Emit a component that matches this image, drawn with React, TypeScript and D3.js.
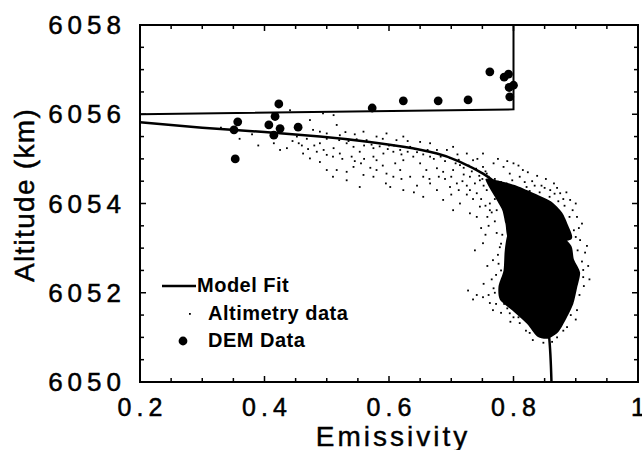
import React from 'react';
import * as d3 from 'd3';

// emissivity vs altitude (km)
const xTicks = [0.2, 0.4, 0.6, 0.8, 1];
const xTickLabels = ['0.2', '0.4', '0.6', '0.8', '1'];
const yTicks = [6050, 6052, 6054, 6056, 6058];
const yTickLabels = ['6050', '6052', '6054', '6056', '6058'];

const modelFit: [number, number][] = [
  [0.2, 6055.82], [0.3, 6055.7], [0.4, 6055.6], [0.489, 6055.5], [0.569, 6055.38],
  [0.623, 6055.27], [0.677, 6055.12], [0.719, 6054.9], [0.751, 6054.67], [0.784, 6054.3],
  [0.805, 6053.93], [0.821, 6053.6], [0.835, 6052.95], [0.845, 6052.25], [0.852, 6051.6],
  [0.857, 6051.05], [0.861, 6050.0],
];

const boundary: [number, number][] = [
  [0.2, 6056.0], [0.8, 6056.11], [0.8, 6058],
];

const demData: [number, number][] = [
  [0.353, 6055.0], [0.357, 6055.83], [0.351, 6055.65], [0.423, 6056.23], [0.417, 6055.95],
  [0.407, 6055.76], [0.425, 6055.68], [0.415, 6055.53], [0.454, 6055.71], [0.573, 6056.14],
  [0.623, 6056.3], [0.679, 6056.3], [0.727, 6056.32], [0.762, 6056.95], [0.785, 6056.83],
  [0.792, 6056.9], [0.8, 6056.65], [0.793, 6056.6], [0.794, 6056.39],
];

// dense part of the altimetry cloud, traced as outlines
const altimetryBand: [number, number][] = [
  [0.755, 6054.55], [0.78, 6054.5], [0.805, 6054.4], [0.835, 6054.22], [0.86, 6054.05],
  [0.878, 6053.8], [0.888, 6053.5], [0.893, 6053.2], [0.85, 6053.1], [0.795, 6053.15],
  [0.787, 6053.55], [0.782, 6053.85], [0.77, 6054.15],
];
const altimetryCore: [number, number][] = [
  [0.792, 6053.35], [0.815, 6053.5], [0.845, 6053.45], [0.875, 6053.3], [0.893, 6053.05],
  [0.897, 6052.75], [0.907, 6052.45], [0.902, 6052.1], [0.896, 6051.75], [0.884, 6051.4],
  [0.872, 6051.12], [0.855, 6050.97], [0.838, 6051.02], [0.822, 6051.3], [0.8, 6051.58],
  [0.778, 6051.85], [0.776, 6052.15], [0.784, 6052.5], [0.786, 6052.95],
];

// scattered altimetry points
const altimetryDots: [number, number][] = [
  [0.489, 6055.61], [0.5, 6055.57], [0.478, 6055.65], [0.516, 6055.76], [0.521, 6055.53],
  [0.532, 6055.35], [0.489, 6055.35], [0.484, 6055.16], [0.5, 6055.09], [0.511, 6055.24],
  [0.521, 6055.12], [0.543, 6055.27], [0.553, 6055.16], [0.559, 6055.61], [0.564, 6055.42],
  [0.575, 6055.05], [0.58, 6054.97], [0.462, 6055.12], [0.473, 6055.01], [0.489, 6054.93],
  [0.5, 6054.75], [0.516, 6054.75], [0.532, 6054.71], [0.543, 6054.82], [0.559, 6054.64],
  [0.575, 6055.24], [0.473, 6055.87], [0.452, 6055.5], [0.425, 6055.2], [0.436, 6055.24],
  [0.532, 6054.52], [0.553, 6054.37], [0.494, 6056.02], [0.441, 6056.09], [0.511, 6055.98],
  [0.36, 6055.45], [0.38, 6055.55], [0.39, 6055.3], [0.33, 6055.7], [0.4, 6055.6], [0.415, 6055.35],
  [0.58, 6055.5], [0.596, 6055.57], [0.612, 6055.42], [0.623, 6055.5], [0.65, 6055.38],
  [0.666, 6055.35], [0.591, 6055.12], [0.607, 6055.16], [0.623, 6054.97], [0.639, 6055.05],
  [0.65, 6054.9], [0.666, 6055.05], [0.677, 6054.79], [0.687, 6054.71], [0.703, 6054.75],
  [0.714, 6054.86], [0.725, 6055.12], [0.735, 6054.97], [0.751, 6055.12], [0.73, 6054.6],
  [0.746, 6054.52], [0.757, 6054.67], [0.709, 6054.45], [0.698, 6054.37], [0.73, 6054.3],
  [0.741, 6054.23], [0.757, 6054.3], [0.677, 6054.3], [0.655, 6054.6], [0.634, 6054.6],
  [0.618, 6054.75], [0.596, 6054.67], [0.58, 6054.75], [0.655, 6054.15], [0.714, 6054.0],
  [0.73, 6053.78], [0.746, 6053.93], [0.762, 6054.0], [0.773, 6053.85], [0.784, 6054.08],
  [0.778, 6054.3], [0.789, 6054.45], [0.8, 6054.9], [0.81, 6054.6], [0.821, 6054.37],
  [0.794, 6054.67], [0.784, 6054.82], [0.768, 6054.9], [0.762, 6054.49], [0.751, 6054.82],
  [0.693, 6055.2], [0.703, 6055.27], [0.677, 6055.2], [0.634, 6055.27], [0.575, 6054.6],
  [0.602, 6054.37], [0.623, 6054.3], [0.666, 6054.45], [0.687, 6054.08], [0.703, 6053.85],
  [0.741, 6053.7], [0.751, 6053.11], [0.767, 6052.73], [0.762, 6053.85],
  [0.773, 6053.34], [0.778, 6053.02], [0.902, 6053.7], [0.907, 6053.18], [0.912, 6052.51],
  [0.891, 6054.08], [0.875, 6054.23], [0.859, 6054.3], [0.741, 6051.95], [0.751, 6051.9],
  [0.762, 6051.77], [0.767, 6051.61], [0.794, 6051.54], [0.81, 6051.32], [0.831, 6050.94],
  [0.912, 6052.35], [0.902, 6051.61], [0.886, 6051.23], [0.87, 6051.0], [0.845, 6054.4],
  [0.83, 6054.5], [0.815, 6054.75], [0.77, 6053.6], [0.765, 6052.3], [0.77, 6052.0],
  [0.915, 6052.9], [0.905, 6053.45], [0.895, 6053.85], [0.88, 6054.1], [0.87, 6054.35],
  [0.725, 6054.4], [0.735, 6054.1], [0.72, 6054.65], [0.69, 6054.55], [0.66, 6054.75],
  [0.645, 6055.15], [0.6, 6055.3], [0.56, 6055.0], [0.545, 6054.95], [0.61, 6054.9],
  [0.62, 6055.1], [0.455, 6055.35], [0.468, 6055.45], [0.445, 6055.4], [0.51, 6054.6],
  [0.595, 6054.45], [0.64, 6054.25], [0.7, 6054.2], [0.76, 6053.5], [0.755, 6053.3],
  [0.78, 6052.5], [0.775, 6052.85], [0.785, 6051.75], [0.8, 6051.45], [0.82, 6051.15],
  // thicker speckle close to the fit curve
  [0.52, 6055.42], [0.535, 6055.4], [0.548, 6055.44], [0.56, 6055.3], [0.572, 6055.32],
  [0.585, 6055.28], [0.598, 6055.22], [0.608, 6055.3], [0.618, 6055.2], [0.63, 6055.16],
  [0.642, 6055.22], [0.655, 6055.1], [0.662, 6055.2], [0.672, 6055.0], [0.683, 6055.05],
  [0.69, 6054.95], [0.698, 6055.02], [0.707, 6054.9], [0.712, 6054.98], [0.72, 6054.8],
  [0.728, 6054.85], [0.733, 6054.72], [0.74, 6054.78], [0.745, 6054.62], [0.75, 6054.55],
  [0.755, 6054.72], [0.76, 6054.6], [0.765, 6054.42], [0.77, 6054.55], [0.775, 6054.38],
  [0.78, 6054.48], [0.792, 6054.25], [0.798, 6054.52], [0.805, 6054.35], [0.812, 6054.2],
  [0.818, 6054.48], [0.826, 6054.28], [0.834, 6054.4], [0.842, 6054.25], [0.85, 6054.35],
  [0.858, 6054.15], [0.866, 6054.22], [0.872, 6054.05], [0.882, 6053.95], [0.89, 6053.7],
  [0.897, 6053.4], [0.9, 6053.25], [0.903, 6052.95], [0.91, 6052.7], [0.913, 6052.15],
  [0.906, 6051.95], [0.9, 6051.4], [0.892, 6051.5], [0.88, 6051.15], [0.862, 6050.9],
  [0.848, 6050.88], [0.826, 6051.1], [0.808, 6051.45], [0.79, 6051.65], [0.772, 6051.75],
  [0.768, 6052.1], [0.772, 6052.4], [0.776, 6052.65], [0.78, 6053.1], [0.782, 6053.3],
  [0.758, 6053.7], [0.748, 6053.45], [0.738, 6052.95], [0.758, 6052.6], [0.752, 6052.2],
  [0.727, 6052.05], [0.735, 6051.85], [0.76, 6051.95], [0.78, 6051.55], [0.795, 6051.35],
  [0.92, 6052.6], [0.918, 6053.05], [0.922, 6052.3], [0.91, 6053.55], [0.9, 6054.0],
  [0.885, 6054.25], [0.865, 6054.45], [0.852, 6054.55], [0.838, 6054.62], [0.823, 6054.7],
  [0.808, 6054.85], [0.79, 6054.95], [0.775, 6055.0], [0.742, 6055.0], [0.71, 6055.1],
  [0.68, 6054.6], [0.665, 6054.55], [0.645, 6054.4], [0.62, 6054.55], [0.607, 6054.6],
  [0.59, 6054.85], [0.57, 6054.8], [0.555, 6054.9], [0.54, 6055.05], [0.525, 6055.0],
  [0.51, 6055.05], [0.495, 6055.2], [0.48, 6055.3], [0.47, 6055.22], [0.46, 6055.3],
  [0.5, 6055.45], [0.53, 6055.6], [0.545, 6055.55], [0.59, 6055.45], [0.63, 6055.4],
  [0.7, 6054.6], [0.718, 6054.5], [0.725, 6054.2], [0.712, 6054.3], [0.748, 6054.1],
  [0.755, 6053.95], [0.765, 6053.8], [0.77, 6054.1], [0.752, 6054.4], [0.738, 6054.45],
];

const W = 642;
const H = 450;
const x = d3.scaleLinear().domain([0.2, 1]).range([140, 638]);
const y = d3.scaleLinear().domain([6050, 6058]).range([382, 25]);

const font = '"Liberation Sans", Arial, Helvetica, sans-serif';

export default function App() {
  const line = d3.line<[number, number]>()
    .x(d => x(d[0]))
    .y(d => y(d[1]))
    .curve(d3.curveMonotoneY);
  const straight = d3.line<[number, number]>().x(d => x(d[0])).y(d => y(d[1]));
  const blob = d3.line<[number, number]>()
    .x(d => x(d[0]))
    .y(d => y(d[1]))
    .curve(d3.curveCardinalClosed.tension(0.3));

  const xMinor = d3.range(0.2, 1.0001, 0.05);
  const yMinor = d3.range(6050, 6058.001, 0.5);
  const [x0, x1] = x.range();
  const [y0, y1] = y.range();

  return (
    <svg width={W} height={H} style={{ position: 'absolute', left: 0, top: 0, background: '#fff' }}>
      {/* altimetry cloud */}
      <path d={blob(altimetryBand) ?? ''} fill="#000" />
      <path d={blob(altimetryCore) ?? ''} fill="#000" />
      {altimetryDots.map((d, i) => (
        <rect key={i} x={x(d[0]) - 0.9} y={y(d[1]) - 0.9} width={1.8} height={1.8} fill="#000" />
      ))}

      {/* boundary and model fit */}
      <path d={straight(boundary) ?? ''} fill="none" stroke="#000" strokeWidth={2} />
      <path d={line(modelFit) ?? ''} fill="none" stroke="#000" strokeWidth={2.5} />

      {demData.map((d, i) => (
        <circle key={i} cx={x(d[0])} cy={y(d[1])} r={4.4} fill="#000" />
      ))}

      {/* frame + inward ticks */}
      <rect x={x0} y={y1} width={x1 - x0} height={y0 - y1} fill="none" stroke="#000" strokeWidth={2} />
      {xMinor.map((t, i) => {
        const len = i % 4 === 0 ? 6 : 4;
        return (
          <g key={'xt' + i}>
            <line x1={x(t)} x2={x(t)} y1={y0} y2={y0 - len} stroke="#000" strokeWidth={1.5} />
            <line x1={x(t)} x2={x(t)} y1={y1} y2={y1 + len} stroke="#000" strokeWidth={1.5} />
          </g>
        );
      })}
      {yMinor.map((t, i) => {
        const len = i % 4 === 0 ? 6 : 4;
        return (
          <g key={'yt' + i}>
            <line x1={x0} x2={x0 + len} y1={y(t)} y2={y(t)} stroke="#000" strokeWidth={1.5} />
            <line x1={x1} x2={x1 - len} y1={y(t)} y2={y(t)} stroke="#000" strokeWidth={1.5} />
          </g>
        );
      })}

      {/* tick labels */}
      {xTicks.map((t, i) => (
        <text key={'xl' + i} x={x(t) + 2.5} y={416} textAnchor="middle" fontFamily={font}
          fontSize={25} letterSpacing={5} stroke="#000" strokeWidth={0.5}>{xTickLabels[i]}</text>
      ))}
      {yTicks.map((t, i) => (
        <text key={'yl' + i} x={126} y={y(t) + 9} textAnchor="end" fontFamily={font}
          fontSize={26} letterSpacing={5} stroke="#000" strokeWidth={0.5}>{yTickLabels[i]}</text>
      ))}

      {/* axis titles */}
      <text x={393} y={446} textAnchor="middle" fontFamily={font} fontSize={28} letterSpacing={3}
        stroke="#000" strokeWidth={0.4}>Emissivity</text>
      <text transform="translate(34,195) rotate(-90)" textAnchor="middle" fontFamily={font}
        fontSize={28} letterSpacing={1.3} stroke="#000" strokeWidth={0.5}>Altitude (km)</text>

      {/* legend */}
      <line x1={162} x2={196} y1={286} y2={286} stroke="#000" strokeWidth={2.5} />
      <text x={197} y={292} fontFamily={font} fontSize={20} fontWeight="bold" letterSpacing={0.5}>Model Fit</text>
      <rect x={189} y={313} width={1.8} height={1.8} fill="#000" />
      <text x={208} y={320} fontFamily={font} fontSize={20} fontWeight="bold" letterSpacing={0.5}>Altimetry data</text>
      <circle cx={183} cy={341} r={4.4} fill="#000" />
      <text x={208} y={347} fontFamily={font} fontSize={20} fontWeight="bold" letterSpacing={0.5}>DEM Data</text>
    </svg>
  );
}
